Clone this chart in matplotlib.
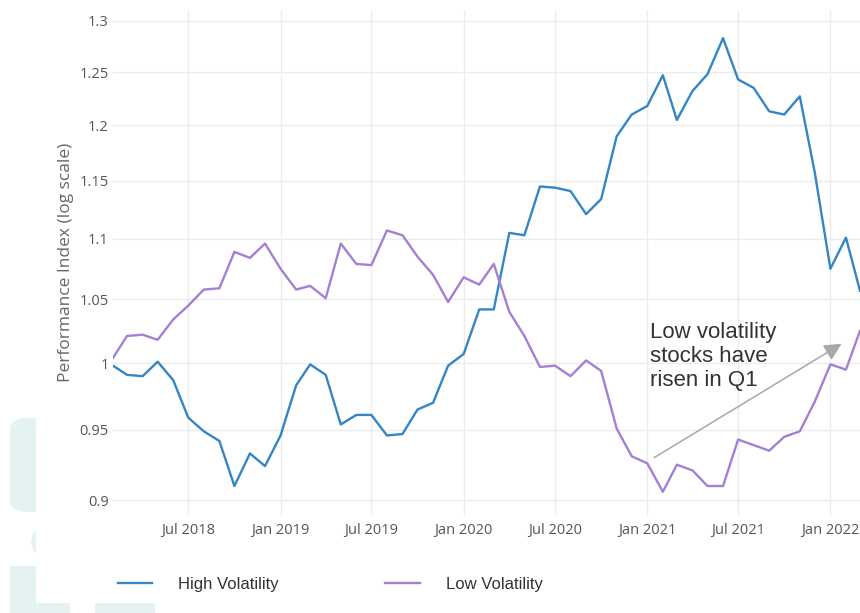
import matplotlib
matplotlib.use("Agg")
import matplotlib.pyplot as plt
import matplotlib.patches as mpatches
from matplotlib.ticker import FixedLocator, FixedFormatter, NullLocator
import pandas as pd

# monthly performance index, Feb 2018 - Mar 2022
dates = pd.date_range("2018-02-01", periods=50, freq="MS")

high_vol = [0.998, 0.991, 0.990, 1.001, 0.987, 0.959, 0.949, 0.942, 0.910, 0.933,
            0.924, 0.946, 0.983, 0.999, 0.991, 0.954, 0.961, 0.961, 0.946, 0.947,
            0.965, 0.970, 0.998, 1.007, 1.042, 1.042, 1.105, 1.103, 1.145, 1.144,
            1.141, 1.121, 1.134, 1.190, 1.210, 1.218, 1.247, 1.205, 1.232, 1.248,
            1.283, 1.243, 1.235, 1.213, 1.210, 1.227, 1.157, 1.075, 1.101, 1.057]

low_vol = [1.004, 1.021, 1.022, 1.018, 1.034, 1.045, 1.058, 1.059, 1.089, 1.084,
           1.096, 1.075, 1.058, 1.061, 1.051, 1.096, 1.079, 1.078, 1.107, 1.103,
           1.085, 1.070, 1.048, 1.068, 1.062, 1.079, 1.040, 1.021, 0.997, 0.998,
           0.990, 1.002, 0.994, 0.951, 0.931, 0.926, 0.906, 0.925, 0.921, 0.910,
           0.910, 0.943, 0.939, 0.935, 0.945, 0.949, 0.971, 0.999, 0.995, 1.025]

y_ticks = [0.9, 0.95, 1.0, 1.05, 1.1, 1.15, 1.2, 1.25, 1.3]
y_tick_labels = ["0.9", "0.95", "1", "1.05", "1.1", "1.15", "1.2", "1.25", "1.3"]
x_ticks = pd.to_datetime(["2018-07-01", "2019-01-01", "2019-07-01", "2020-01-01",
                          "2020-07-01", "2021-01-01", "2021-07-01", "2022-01-01"])
x_tick_labels = ["Jul 2018", "Jan 2019", "Jul 2019", "Jan 2020",
                 "Jul 2020", "Jan 2021", "Jul 2021", "Jan 2022"]

note_text = "Low volatility\nstocks have\nrisen in Q1"
note_pos = (pd.Timestamp("2021-01-07"), 1.032)
arrow_from = (pd.Timestamp("2021-01-10"), 0.929)
arrow_to = (pd.Timestamp("2022-01-28"), 1.016)

W, H = 860, 613
fig = plt.figure(figsize=(W / 100, H / 100), dpi=100)


def fx(px):
    return px / W


def fy(py):
    return 1 - py / H


# faint teal background decoration on the left
teal = "#e4f3f2"
fig.patches.append(mpatches.FancyBboxPatch((fx(10), fy(512)), fx(26), fy(418) - fy(512),
                                           boxstyle="round,pad=0,rounding_size=0.02",
                                           transform=fig.transFigure, fc=teal, ec="none"))
fig.patches.append(mpatches.Rectangle((fx(22), fy(512)), fx(14), fy(418) - fy(512),
                                      transform=fig.transFigure, fc=teal, ec="none"))
bump = mpatches.Ellipse((fx(62), fy(542)), fx(62), fy(520) - fy(564),
                        transform=fig.transFigure, fc=teal, ec="none")
clip = mpatches.Rectangle((0, 0), fx(36), 1, transform=fig.transFigure, fc="none", ec="none")
fig.patches.append(bump)
fig.patches.append(clip)
bump.set_clip_path(clip)
fig.patches.append(mpatches.Rectangle((fx(10), 0), fx(26), fy(566),
                                      transform=fig.transFigure, fc=teal, ec="none"))
fig.patches.append(mpatches.Rectangle((fx(36), 0), fx(34), fy(603),
                                      transform=fig.transFigure, fc=teal, ec="none"))
fig.patches.append(mpatches.Rectangle((fx(95), 0), fx(60), fy(603),
                                      transform=fig.transFigure, fc=teal, ec="none"))

ax = fig.add_axes([fx(113), fy(515), fx(860) - fx(113), fy(10) - fy(515)])
ax.set_facecolor("none")

ax.plot(dates, high_vol, color="#3386c4", lw=1.7, label="High Volatility")
ax.plot(dates, low_vol, color="#a47fd2", lw=1.7, label="Low Volatility")

ax.set_yscale("log")
ax.set_ylim(0.890, 1.311)
ax.set_xlim(dates[0], dates[-1])
ax.yaxis.set_major_locator(FixedLocator(y_ticks))
ax.yaxis.set_major_formatter(FixedFormatter(y_tick_labels))
ax.yaxis.set_minor_locator(NullLocator())
ax.set_xticks(x_ticks)
ax.set_xticklabels(x_tick_labels)

for lab in ax.get_xticklabels() + ax.get_yticklabels():
    lab.set_fontfamily("Open Sans")
    lab.set_fontsize(10.5)
    lab.set_color("#555555")
ax.tick_params(length=0)
ax.tick_params(axis="y", pad=3)
ax.tick_params(axis="x", pad=6)
ax.grid(True, color="#ececec", lw=1)
for s in ax.spines.values():
    s.set_visible(False)

ax.set_ylabel("Performance Index (log scale)", fontfamily="Open Sans", fontsize=12.5,
              color="#666666", labelpad=4)

ax.annotate("", xy=arrow_to, xytext=arrow_from,
            arrowprops=dict(arrowstyle="-|>", color="#a8a8a8", lw=1.1, mutation_scale=26))
ax.text(*note_pos, note_text, fontfamily="Liberation Sans",
        fontsize=16, color="#333333", va="top", ha="left", linespacing=1.2)

leg = fig.legend(loc="center left", bbox_to_anchor=(fx(118), fy(584)), ncol=2, frameon=False,
                 prop={"family": "Liberation Sans", "size": 12}, handlelength=2.05,
                 handletextpad=1.56, columnspacing=6.4, borderpad=0, borderaxespad=0)
for t in leg.get_texts():
    t.set_color("#333333")

fig.savefig("out.png", dpi=100)
